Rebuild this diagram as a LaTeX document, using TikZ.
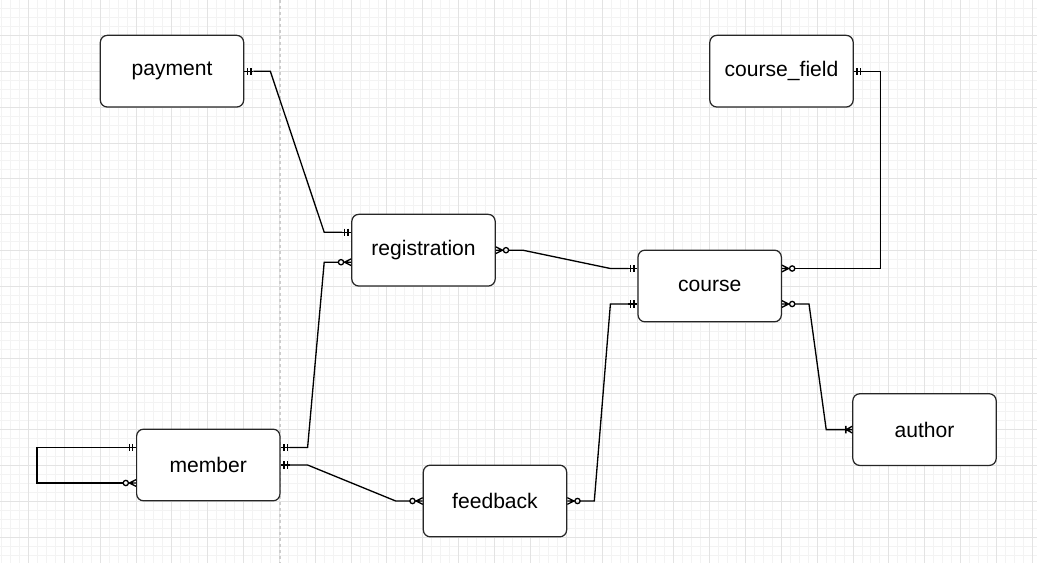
\documentclass[tikz,border=0pt]{standalone}
\usepackage{fontspec}
\setmainfont{Liberation Sans}
\usepackage{xcolor}
\usepackage{tikz}
\usetikzlibrary{arrows.meta, positioning, calc}

\definecolor{gridmajor}{HTML}{E3E3E3}
\definecolor{gridminor}{HTML}{F3F3F3}
\definecolor{pagebreak}{HTML}{CDCDCD}
\definecolor{boxline}{HTML}{262626}

% ER line ends
\pgfdeclarearrow{
  name = MandOne,
  setup code = {
    \pgfarrowssettipend{0pt}
    \pgfarrowssetlineend{-5.2pt}
    \pgfarrowssetbackend{-5.2pt}
    \pgfarrowshullpoint{0pt}{2.2pt}
    \pgfarrowshullpoint{-5.2pt}{-2.2pt}
  },
  drawing code = {
    \pgfpathmoveto{\pgfqpoint{0pt}{0pt}}
    \pgfpathlineto{\pgfqpoint{-5.2pt}{0pt}}
    \pgfpathmoveto{\pgfqpoint{-1.9pt}{2.1pt}}
    \pgfpathlineto{\pgfqpoint{-1.9pt}{-2.1pt}}
    \pgfpathmoveto{\pgfqpoint{-3.8pt}{2.1pt}}
    \pgfpathlineto{\pgfqpoint{-3.8pt}{-2.1pt}}
    \pgfusepathqstroke
  }
}
\pgfdeclarearrow{
  name = ZeroMany,
  setup code = {
    \pgfarrowssettipend{0pt}
    \pgfarrowssetlineend{-7.3pt}
    \pgfarrowssetbackend{-7.3pt}
    \pgfarrowshullpoint{0pt}{2pt}
    \pgfarrowshullpoint{-7.3pt}{-2pt}
  },
  drawing code = {
    \pgfpathmoveto{\pgfqpoint{0pt}{1.9pt}}
    \pgfpathlineto{\pgfqpoint{-3.8pt}{0pt}}
    \pgfpathlineto{\pgfqpoint{0pt}{-1.9pt}}
    \pgfpathmoveto{\pgfqpoint{0pt}{0pt}}
    \pgfpathlineto{\pgfqpoint{-4.3pt}{0pt}}
    \pgfpathcircle{\pgfqpoint{-5.8pt}{0pt}}{1.5pt}
    \pgfusepathqstroke
  }
}
\pgfdeclarearrow{
  name = OneMany,
  setup code = {
    \pgfarrowssettipend{0pt}
    \pgfarrowssetlineend{-3.6pt}
    \pgfarrowssetbackend{-3.6pt}
    \pgfarrowshullpoint{0pt}{2.1pt}
    \pgfarrowshullpoint{-3.6pt}{-2.1pt}
  },
  drawing code = {
    \pgfpathmoveto{\pgfqpoint{0pt}{1.9pt}}
    \pgfpathlineto{\pgfqpoint{-3.4pt}{0pt}}
    \pgfpathlineto{\pgfqpoint{0pt}{-1.9pt}}
    \pgfpathmoveto{\pgfqpoint{0pt}{0pt}}
    \pgfpathlineto{\pgfqpoint{-3.6pt}{0pt}}
    \pgfpathmoveto{\pgfqpoint{-3.6pt}{2.1pt}}
    \pgfpathlineto{\pgfqpoint{-3.6pt}{-2.1pt}}
    \pgfusepathqstroke
  }
}

\begin{document}
\begin{tikzpicture}[x=0.02cm, y=-0.02cm,
    entity/.style={draw=boxline, fill=white, rectangle, rounded corners=0.14cm,
        line width=0.7pt, minimum width=2.868cm, minimum height=1.434cm,
        font=\fontsize{12}{14}\selectfont},
    rel/.style={line width=0.75pt, black}]
    \useasboundingbox (0,0) rectangle (1037,563);
    % grid
    \foreach \gx in {0,...,115}
        \draw[gridminor, line width=0.5pt] ({1.5+8.963*\gx},0) -- ({1.5+8.963*\gx},563);
    \foreach \gy in {0,...,61}
        \draw[gridminor, line width=0.5pt] (0,{8.5+8.963*\gy}) -- (1037,{8.5+8.963*\gy});
    \foreach \gx in {0,...,28}
        \draw[gridmajor, line width=0.5pt] ({28.4+35.85*\gx},0) -- ({28.4+35.85*\gx},563);
    \foreach \gy in {0,...,14}
        \draw[gridmajor, line width=0.5pt] (0,{35.4+35.85*\gy}) -- (1037,{35.4+35.85*\gy});
    \draw[pagebreak, line width=0.6pt, dash pattern=on 1.7pt off 1.7pt] (280,0) -- (280,563);

    % entities
    \node[entity] (payment) at (172,71.2) {payment};
    \node[entity] (coursefield) at (781.5,71.2) {course\_field};
    \node[entity] (registration) at (423.5,250.2) {registration};
    \node[entity] (course) at (709.7,286) {course};
    \node[entity] (author) at (924.5,429.6) {author};
    \node[entity] (member) at (208.3,465) {member};
    \node[entity] (feedback) at (495,501) {feedback};

    % relations
    \draw[rel, {MandOne[]}-{MandOne[]}] (payment.east) -- ++(26,0)
        -- ($(registration.west)+(-27,-18)$) -- ($(registration.west)+(0,-18)$);
    \draw[rel, {MandOne[]}-{ZeroMany[]}] ($(member.east)+(0,-17.5)$) -- ++(27,0)
        -- ($(registration.west)+(-27,12)$) -- ($(registration.west)+(0,12)$);
    \draw[rel, {MandOne[]}-{ZeroMany[]}] (member.east) -- ++(27,0)
        -- ($(feedback.west)+(-27,0)$) -- (feedback.west);
    \draw[rel, {MandOne[]}-{ZeroMany[]}] ($(course.west)+(0,-17.5)$) -- ++(-27,0)
        -- ($(registration.east)+(27,0)$) -- (registration.east);
    \draw[rel, {MandOne[]}-{ZeroMany[]}] ($(course.west)+(0,18)$) -- ++(-27,0)
        -- ($(feedback.east)+(27,0)$) -- (feedback.east);
    \draw[rel, {MandOne[]}-{ZeroMany[]}] (coursefield.east) -- ++(27,0)
        |- ($(course.east)+(0,-17.5)$);
    \draw[rel, {OneMany[]}-{ZeroMany[]}] (author.west) -- ++(-26,0)
        -- ($(course.east)+(27,18)$) -- ($(course.east)+(0,18)$);
    \draw[rel, {MandOne[]}-{ZeroMany[]}] ($(member.west)+(0,-17.5)$) -- ++(-99,0)
        |- ($(member.west)+(0,18)$);
\end{tikzpicture}
\end{document}
